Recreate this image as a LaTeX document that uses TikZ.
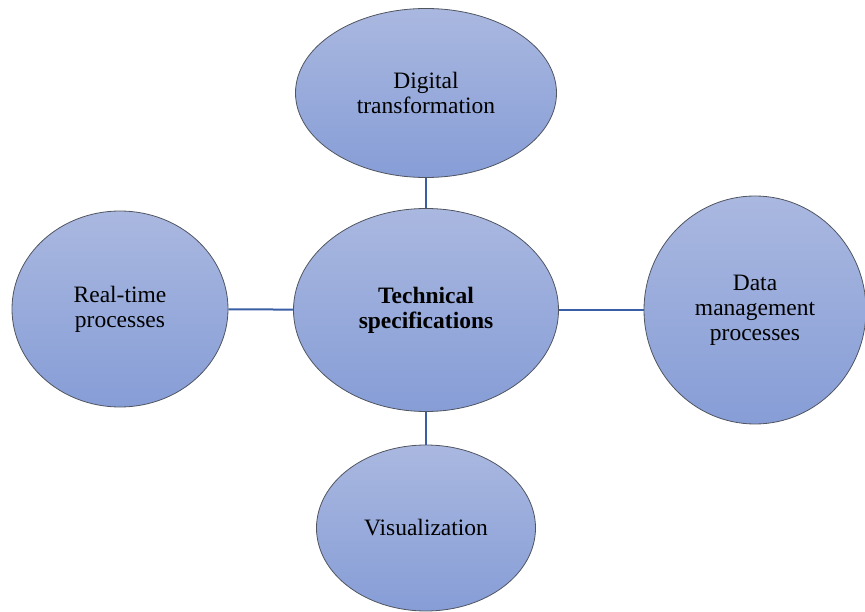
\documentclass[tikz,border=0pt]{standalone}
\usepackage{fontspec}
\setmainfont{Liberation Serif}
\usepackage{xcolor}
\usetikzlibrary{shapes.geometric}

\definecolor{bubbletop}{HTML}{AAB8E0}
\definecolor{bubblebottom}{HTML}{869DD6}
\definecolor{bubbleline}{HTML}{505560}
\definecolor{linkblue}{HTML}{3A5EA6}

\begin{document}
\begin{tikzpicture}
			[x=1pt, y=-1pt,
			bubble/.style={ellipse, draw=bubbleline, line width=0.8pt, top color=bubbletop, bottom color=bubblebottom,
				inner sep=0pt, align=center, font=\fontsize{23.5}{25}\selectfont},
			link/.style={draw=linkblue, line width=2pt}]
			\useasboundingbox (0,0) rectangle (865,612);
			% the five bubbles
			\node[bubble, minimum width=265pt, minimum height=203pt] (tech) at (426,310) {\textbf{Technical}\\\textbf{specifications}};
			\node[bubble, minimum width=261pt, minimum height=169pt] (digital) at (426,93) {Digital\\transformation};
			\node[bubble, minimum width=216pt, minimum height=196pt] (realtime) at (120,309) {Real-time\\processes};
			\node[bubble, minimum width=222pt, minimum height=228pt] (datamgmt) at (755,310) {Data\\management\\processes};
			\node[bubble, minimum width=219pt, minimum height=166pt] (visual) at (426,528) {Visualization};
			% connectors
			\draw[link] (digital) -- (tech);
			\draw[link] (realtime) -- (tech);
			\draw[link] (tech) -- (datamgmt);
			\draw[link] (tech) -- (visual);
		\end{tikzpicture}
\end{document}
